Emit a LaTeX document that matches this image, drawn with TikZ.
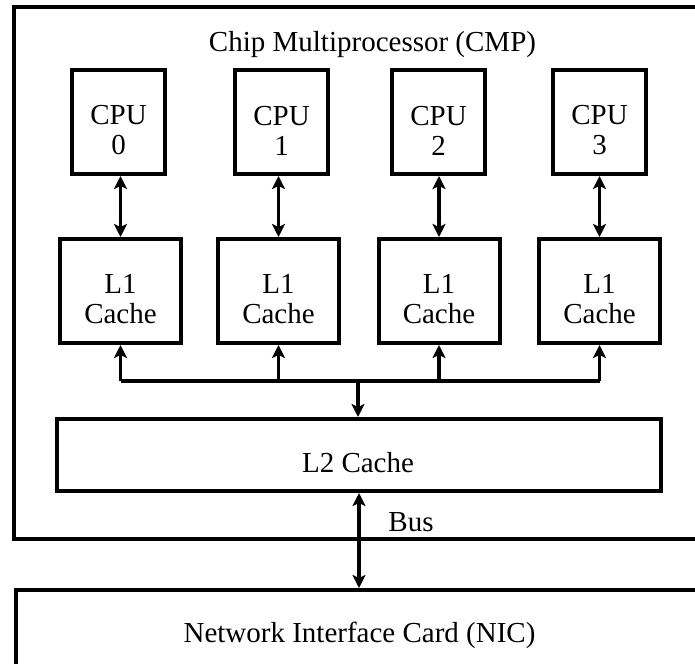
\documentclass[tikz,border=0pt]{standalone}
\usepackage{fontspec}
\setmainfont{Liberation Serif}
\usetikzlibrary{arrows.meta}
\begin{document}
\begin{tikzpicture}[x=1pt,y=-1pt,
  boxstyle/.style={draw=black, line width=4pt, inner sep=0pt},
  cpubox/.style={boxstyle, minimum width=93pt, minimum height=104pt},
  lonebox/.style={boxstyle, minimum width=121pt, minimum height=104pt},
  lbl/.style={font=\fontsize{29}{30}\selectfont, align=center, inner sep=0pt},
  tipstyle/.style={},
  conn/.style={line width=3.5pt, {Stealth[length=13pt,width=13pt,inset=3pt]}-{Stealth[length=13pt,width=13pt,inset=3pt]}},
  onearrow/.style={line width=3.5pt, -{Stealth[length=13pt,width=13pt,inset=3pt]}}
]
\useasboundingbox (0,0) rectangle (695,663);
\clip (0,0) rectangle (695,663);
\fill[white] (0,0) rectangle (695,663);

% outer boxes
\node[boxstyle, minimum width=706pt, minimum height=532pt] (cmp) at (367,273.4) {};
\node[lbl, anchor=base] (cmpt) at (372.5,52) {Chip Multiprocessor (CMP)};
\node[boxstyle, minimum width=704pt, minimum height=110pt] (nic) at (367.5,645) {};
\node[lbl, anchor=base] (nict) at (359.5,642) {Network Interface Card (NIC)};

% CPUs
\foreach \i/\x in {0/118.5,1/281.5,2/438.5,3/599.5}{
  \node[cpubox] (cpu\i) at (\x,122) {};
  \node[lbl] (cput\i) at ([yshift=-8.5pt]cpu\i.center) {CPU\\\i};
}
% L1 caches
\foreach \i/\x in {0/120.5,1/278.5,2/439,3/599.5}{
  \node[lonebox] (lone\i) at (\x,291) {};
  \node[lbl] (lonet\i) at ([yshift=-8pt]lone\i.center) {L1\\Cache};
  \draw[conn] (lone\i.north |- cpu\i.south) -- (lone\i.north);
}

% L2 cache
\node[boxstyle, minimum width=604pt, minimum height=72pt] (ltwo) at (359,455) {};
\node[lbl, anchor=base] (ltwot) at (358,472) {L2 Cache};

% bus between L1 and L2
\coordinate (bj) at (358,381);
\draw[line width=3.5pt] (lone0.south |- bj) -- (lone3.south |- bj);
\foreach \i in {0,1,2,3}{
  \draw[onearrow] (lone\i.south |- bj) -- (lone\i.south);
}
\draw[onearrow] (bj) -- (bj |- ltwo.north);

% system bus
\coordinate (bustop) at (359,455);
\draw[conn] (bustop |- ltwo.south) -- (bustop |- nic.north);
\node[lbl, anchor=base] (bust) at (411,531) {Bus};
\end{tikzpicture}
\end{document}
